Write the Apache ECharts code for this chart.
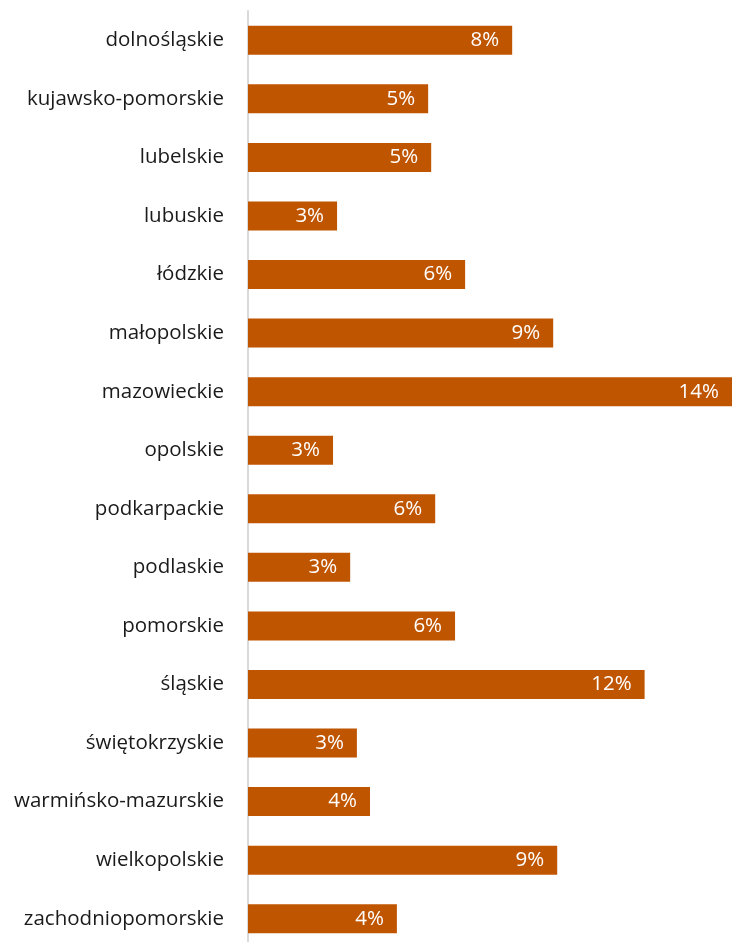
<!DOCTYPE html>
<html>
<head>
<meta charset="utf-8">
<script src="https://cdn.jsdelivr.net/npm/echarts@6/dist/echarts.min.js"></script>
<style>
  html, body { margin: 0; padding: 0; background: #fff; }
  #chart { width: 732px; height: 942px; }
</style>
</head>
<body>
<div id="chart"></div>
<script>
var regions = ['dolnośląskie', 'kujawsko-pomorskie', 'lubelskie', 'lubuskie', 'łódzkie',
    'małopolskie', 'mazowieckie', 'opolskie', 'podkarpackie', 'podlaskie', 'pomorskie',
    'śląskie', 'świętokrzyskie', 'warmińsko-mazurskie', 'wielkopolskie', 'zachodniopomorskie']
var shares = [7.86, 5.36, 5.45, 2.65, 6.46, 9.08, 14.4, 2.53, 5.57, 3.04, 6.16, 11.8, 3.24, 3.63, 9.2, 4.43]

var chart = echarts.init(document.getElementById('chart'))
var option = {
    animation: false,
    grid: {
        left: 248,
        right: 0,
        top: 11,
        height: 937,
        containLabel: false,
        outerBoundsMode: 'none'
    },
    xAxis: {
        type: 'value',
        min: 0,
        max: 14.4,
        show: false
    },
    yAxis: {
        type: 'category',
        inverse: true,
        data: regions,
        axisLine: {
            show: true,
            lineStyle: { color: '#d9d9d9', width: 2 }
        },
        axisTick: { show: false },
        axisLabel: {
            margin: 24,
            fontFamily: 'Open Sans',
            fontSize: 20.5,
            color: '#1a1a1a'
        }
    },
    series: [
        {
            type: 'bar',
            data: shares,
            barWidth: 29,
            itemStyle: { color: '#c05500' },
            label: {
                show: true,
                position: 'insideRight',
                distance: 13,
                fontFamily: 'Open Sans',
                fontSize: 20.5,
                color: '#fff',
                formatter: function (p) {
                    return Math.round(p.value) + '%'
                }
            }
        }
    ]
}
chart.setOption(option)
</script>
</body>
</html>
